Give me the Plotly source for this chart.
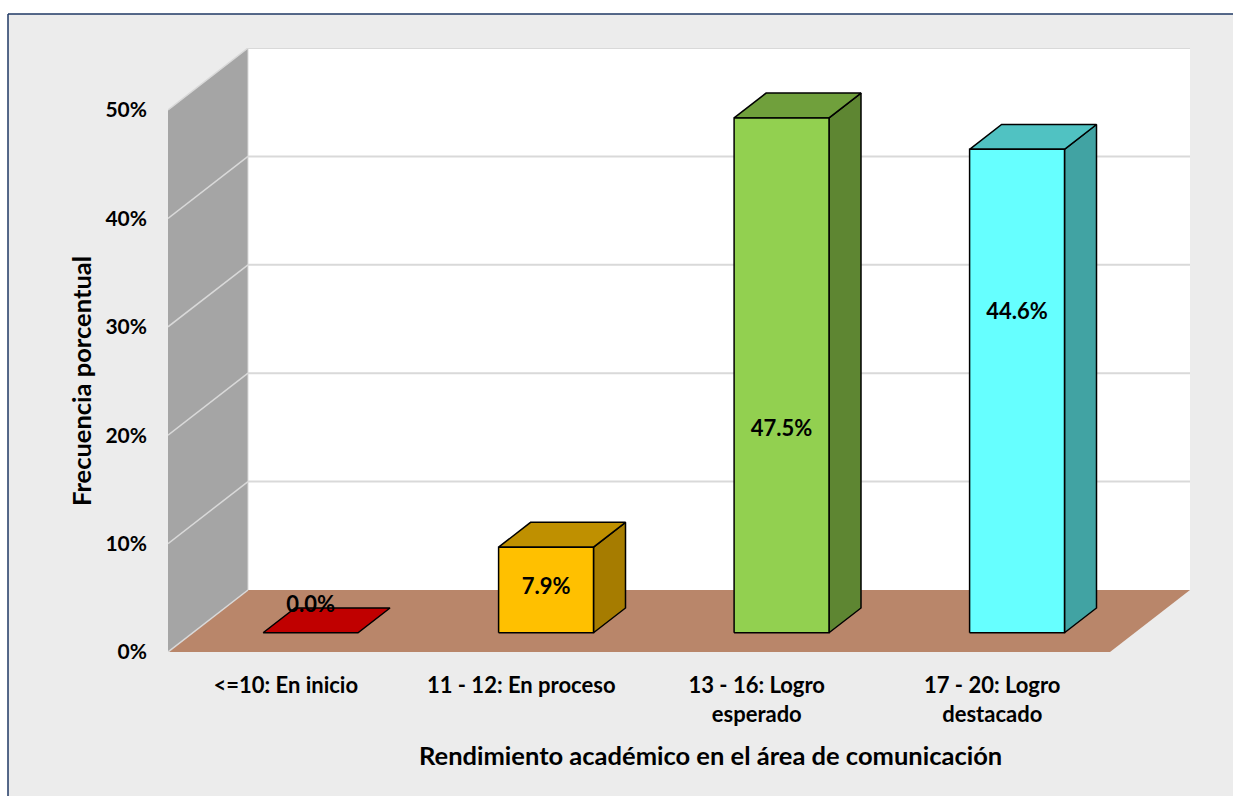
import plotly.graph_objects as go

# data
categories = ["&lt;=10: En inicio", "11 - 12: En proceso",
              "13 - 16: Logro<br>esperado", "17 - 20: Logro<br>destacado"]
values = [0.0, 7.9, 47.5, 44.6]
value_labels = ["0.0%", "7.9%", "47.5%", "44.6%"]
y_ticks = [0, 10, 20, 30, 40, 50]
y_tick_labels = ["0%", "10%", "20%", "30%", "40%", "50%"]

# styles
FRONT = ["#c00000", "#ffc000", "#92d050", "#66ffff"]
TOP = ["#c00000", "#bf9000", "#70a03c", "#50c2c2"]
SIDE = ["#c00000", "#a67c00", "#5e8632", "#41a3a3"]
LABEL_AT = [2.4, 4.1, 18.7, 29.5]   # label height on the front face (in %)

W, H = 1233, 796
L, R, T, B = 168, 43, 48, 144
DX = 0.3397          # full depth shift in category units
DY = 5.72            # full depth shift in percent units
Z0, Z1 = 0.31, 0.71  # bar depth (fraction of the floor)
BW = 0.403           # bar width (category units)
YMAX = 50
n = len(categories)
x0, x1 = -0.5, n - 0.5

FONT = "Lato, 'Open Sans', sans-serif"


def proj(x, y, z):
    return x + z * DX, y + z * DY


def poly(pts, fill, line_color, width=0):
    xs = [p[0] for p in pts] + [pts[0][0]]
    ys = [p[1] for p in pts] + [pts[0][1]]
    return go.Scatter(x=xs, y=ys, mode="lines", fill="toself", fillcolor=fill,
                      line=dict(color=line_color, width=width),
                      hoverinfo="skip", showlegend=False)


def seg(a, b, color, width=1.5):
    return go.Scatter(x=[a[0], b[0]], y=[a[1], b[1]], mode="lines",
                      line=dict(color=color, width=width),
                      hoverinfo="skip", showlegend=False)


fig = go.Figure()

# left wall, back wall, floor
fig.add_trace(poly([proj(x0, 0, 0), proj(x0, YMAX, 0), proj(x0, YMAX, 1), proj(x0, 0, 1)],
                   "#a5a5a5", "#a5a5a5", 0))
fig.add_trace(poly([proj(x0, 0, 1), proj(x0, YMAX, 1), proj(x1, YMAX, 1), proj(x1, 0, 1)],
                   "#ffffff", "#ffffff", 0))
fig.add_trace(poly([proj(x0, 0, 0), proj(x0, 0, 1), proj(x1, 0, 1), proj(x1, 0, 0)],
                   "#b9866a", "#b9866a", 0))

# gridlines on walls
for v in y_ticks:
    if v > 0:
        fig.add_trace(seg(proj(x0, v, 1), proj(x1, v, 1), "#d9d9d9", 2))
    fig.add_trace(seg(proj(x0, v, 0), proj(x0, v, 1), "#d9d9d9", 1.5))
fig.add_trace(seg(proj(x0, 0, 1), proj(x0, YMAX, 1), "#d9d9d9", 1))

# bars
for i, v in enumerate(values):
    xl, xr = i - BW / 2, i + BW / 2
    if v > 0:
        fig.add_trace(poly([proj(xr, 0, Z0), proj(xr, v, Z0), proj(xr, v, Z1), proj(xr, 0, Z1)],
                           SIDE[i], "#000000", 1.5))
    fig.add_trace(poly([proj(xl, v, Z0), proj(xl, v, Z1), proj(xr, v, Z1), proj(xr, v, Z0)],
                       TOP[i], "#000000", 1.5))
    if v > 0:
        fig.add_trace(poly([proj(xl, 0, Z0), proj(xl, v, Z0), proj(xr, v, Z0), proj(xr, 0, Z0)],
                           FRONT[i], "#000000", 1.5))

# value labels
lx = [proj(i, LABEL_AT[i], Z0)[0] for i in range(n)]
ly = [proj(i, LABEL_AT[i], Z0)[1] for i in range(n)]
fig.add_trace(go.Scatter(x=lx, y=ly, mode="text", text=value_labels,
                         textposition="middle center",
                         textfont=dict(family=FONT, size=22, color="#000000", weight="bold"),
                         hoverinfo="skip", showlegend=False))


def px_x(px):
    return (px - L) / (W - L - R)


def px_y(py):
    return (H - B - py) / (H - B - T)


fig.update_layout(
    width=W, height=H,
    margin=dict(l=L, r=R, t=T, b=B),
    paper_bgcolor="#ececec", plot_bgcolor="#ececec",
    showlegend=False,
    font=dict(family=FONT, color="#000000"),
    xaxis=dict(range=[x0, x1 + DX], showgrid=False, zeroline=False, showline=False,
               tickvals=list(range(n)), ticktext=categories, ticks="",
               ticklabelstandoff=18,
               tickfont=dict(family=FONT, size=22, color="#000000", weight="bold"),
               fixedrange=True),
    yaxis=dict(range=[0, YMAX + DY], showgrid=False, zeroline=False, showline=False,
               tickvals=y_ticks, ticktext=y_tick_labels, ticks="", ticklabelstandoff=20,
               tickfont=dict(family=FONT, size=21, color="#000000", weight="bold"),
               fixedrange=True),
    annotations=[
        dict(text="<b>Rendimiento académico en el área de comunicación</b>",
             xref="paper", yref="paper", x=px_x(710), y=px_y(755),
             xanchor="center", yanchor="middle",
             showarrow=False, font=dict(family=FONT, size=25.5, color="#000000")),
        dict(text="<b>Frecuencia porcentual</b>", textangle=-90,
             xref="paper", yref="paper", x=px_x(81), y=px_y(381),
             xanchor="center", yanchor="middle",
             showarrow=False, font=dict(family=FONT, size=25.5, color="#000000")),
    ],
    shapes=[
        dict(type="rect", xref="paper", yref="paper", x0=px_x(-5), x1=px_x(W + 5),
             y0=px_y(-5), y1=px_y(14), fillcolor="#ffffff", line=dict(width=0), layer="above"),
        dict(type="rect", xref="paper", yref="paper", x0=px_x(-5), x1=px_x(8),
             y0=px_y(H + 5), y1=px_y(-5), fillcolor="#ffffff", line=dict(width=0), layer="above"),
        dict(type="line", xref="paper", yref="paper", x0=px_x(8), x1=px_x(W + 5),
             y0=px_y(14), y1=px_y(14), line=dict(color="#1f3864", width=1.5), layer="above"),
        dict(type="line", xref="paper", yref="paper", x0=px_x(8), x1=px_x(8),
             y0=px_y(14), y1=px_y(H + 5), line=dict(color="#1f3864", width=1.5), layer="above"),
    ],
)

fig.write_html("out.html", config={"displayModeBar": False},
               post_script="document.body.style.margin='0';document.body.style.overflow='hidden';")
